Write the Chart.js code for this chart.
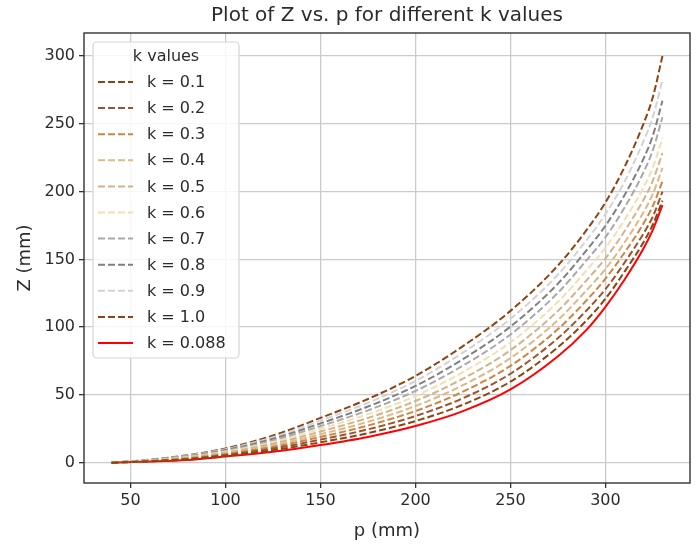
<!DOCTYPE html>
<html>
<head>
<meta charset="utf-8">
<script src="https://cdn.jsdelivr.net/npm/chart.js@4.4.1/dist/chart.umd.min.js"></script>
<style>
  html, body { margin: 0; padding: 0; background: #fff; }
  #wrap { width: 697px; height: 550px; position: relative; }
</style>
</head>
<body>
<div id="wrap"><canvas id="c" width="697" height="550"></canvas></div>
<script>
var pVals = [40, 60, 80, 100, 125, 150, 175, 200, 225, 250, 275, 290, 300, 310, 320, 325, 330];

// Z (mm) for each k
var zK01 = [0, 0.9, 2.4, 5.1, 9.2, 15, 21.8, 30.7, 42.8, 59.8, 85.2, 104.9, 121, 140.8, 162.6, 175.9, 193.3];
var zK02 = [0, 1.1, 2.7, 5.7, 10.4, 17, 24.6, 34.4, 47.6, 65.6, 91.9, 112.3, 128, 147.5, 169, 181.8, 199.9];
var zK03 = [0, 1.2, 3.1, 6.3, 11.6, 19, 27.4, 38.1, 52.4, 71.4, 98.6, 119.7, 135.8, 154.9, 176.4, 189.6, 207.6];
var zK04 = [0, 1.4, 3.4, 6.9, 12.8, 21, 30.2, 41.8, 57.2, 77.2, 105.3, 127.1, 142.9, 162.4, 184.7, 198.5, 217.5];
var zK05 = [0, 1.5, 3.8, 7.5, 14, 23, 33, 45.5, 62, 83, 112, 134.5, 150.7, 170.7, 193.9, 208.3, 228.5];
var zK06 = [0, 1.6, 4.1, 8.1, 15.2, 25, 35.8, 49.2, 66.8, 88.8, 118.7, 141.9, 158.5, 179, 203.1, 218.1, 239.5];
var zK07 = [0, 1.8, 4.5, 8.7, 16.4, 27, 38.6, 52.9, 71.6, 94.6, 125.4, 149.3, 166.3, 188.1, 214.1, 230.8, 254.9];
var zK08 = [0, 1.9, 4.8, 9.3, 17.6, 29, 41.4, 56.6, 76.4, 100.4, 132.1, 156.7, 174.8, 197.3, 224.2, 241.6, 267];
var zK09 = [0, 2.1, 5.2, 9.9, 18.8, 31, 44.2, 60.3, 81.2, 106.2, 138.8, 164.1, 183.4, 207.2, 237.1, 255.3, 282.4];
var zK10 = [0, 2.2, 5.5, 10.5, 20, 33, 47, 64, 86, 112, 145.5, 171.5, 192, 218, 250, 270, 300];
var zK0088 = [0, 0.8, 2.0, 4.5, 8, 13, 19, 27, 38, 54, 78.5, 98, 115, 135, 158, 172, 190];

var kLabels = ["k = 0.1", "k = 0.2", "k = 0.3", "k = 0.4", "k = 0.5",
               "k = 0.6", "k = 0.7", "k = 0.8", "k = 0.9", "k = 1.0"];
var kSeries = [zK01, zK02, zK03, zK04, zK05, zK06, zK07, zK08, zK09, zK10];
var kColors = ["#8b4513", "#a0522d", "#cd853f", "#deb887", "#d2b48c",
               "#f5deb3", "#a9a9a9", "#808080", "#d3d3d3", "#8b4513"];

var xTicks = [50, 100, 150, 200, 250, 300];
var yTicks = [0, 50, 100, 150, 200, 250, 300];

var FONT = "'DejaVu Sans', sans-serif";
var TXT = "#2b2b2b";

function pts(arr) {
  return pVals.map(function (p, i) { return { x: p, y: arr[i] }; });
}

var datasets = kSeries.map(function (s, i) {
  return {
    label: kLabels[i],
    data: pts(s),
    borderColor: kColors[i],
    borderWidth: 2,
    borderDash: [7, 3],
    pointRadius: 0,
    cubicInterpolationMode: "monotone",
    fill: false
  };
});
datasets.push({
  label: "k = 0.088",
  data: pts(zK0088),
  borderColor: "#ff0000",
  borderWidth: 2,
  pointRadius: 0,
  cubicInterpolationMode: "monotone",
  fill: false
});

var decor = {
  id: "decor",
  afterDraw: function (chart) {
    var ctx = chart.ctx;
    var a = chart.chartArea;
    ctx.save();
    // frame
    ctx.strokeStyle = "#333";
    ctx.lineWidth = 1.4;
    ctx.strokeRect(a.left, a.top, a.right - a.left, a.bottom - a.top);

    // title and axis labels
    ctx.fillStyle = TXT;
    ctx.textAlign = "center";
    ctx.textBaseline = "middle";
    ctx.font = "20px " + FONT;
    ctx.fillText("Plot of Z vs. p for different k values", (a.left + a.right) / 2, 16);
    ctx.font = "18px " + FONT;
    ctx.fillText("p (mm)", (a.left + a.right) / 2, 531);
    ctx.save();
    ctx.translate(25, (a.top + a.bottom) / 2);
    ctx.rotate(-Math.PI / 2);
    ctx.fillText("Z (mm)", 0, 0);
    ctx.restore();

    // legend
    var lx = 93, ly = 42, lw = 146, lh = 316, r = 4;
    ctx.beginPath();
    ctx.moveTo(lx + r, ly);
    ctx.arcTo(lx + lw, ly, lx + lw, ly + lh, r);
    ctx.arcTo(lx + lw, ly + lh, lx, ly + lh, r);
    ctx.arcTo(lx, ly + lh, lx, ly, r);
    ctx.arcTo(lx, ly, lx + lw, ly, r);
    ctx.closePath();
    ctx.fillStyle = "rgba(255,255,255,0.85)";
    ctx.fill();
    ctx.strokeStyle = "#d6d6d6";
    ctx.lineWidth = 1.2;
    ctx.stroke();

    ctx.fillStyle = TXT;
    ctx.font = "16px " + FONT;
    ctx.textAlign = "center";
    ctx.fillText("k values", 166, 57);
    ctx.textAlign = "left";
    chart.data.datasets.forEach(function (ds, i) {
      var y = 82 + i * 26.1;
      ctx.beginPath();
      ctx.setLineDash(ds.borderDash || []);
      ctx.strokeStyle = ds.borderColor;
      ctx.lineWidth = 2;
      ctx.moveTo(98, y);
      ctx.lineTo(133, y);
      ctx.stroke();
      ctx.setLineDash([]);
      ctx.fillStyle = TXT;
      ctx.fillText(ds.label, 147, y + 1);
    });
    ctx.restore();
  }
};

new Chart(document.getElementById("c"), {
  type: "line",
  data: { datasets: datasets },
  options: {
    responsive: false,
    animation: false,
    layout: { padding: { left: 0, right: 7, top: 33, bottom: 0 } },
    plugins: {
      legend: { display: false },
      title: { display: false },
      tooltip: { enabled: false }
    },
    scales: {
      x: {
        type: "linear",
        min: 25.5,
        max: 344.5,
        afterBuildTicks: function (s) {
          s.ticks = xTicks.map(function (v) { return { value: v }; });
        },
        afterFit: function (s) { s.height = 67; },
        ticks: { color: TXT, font: { family: FONT, size: 16 }, padding: 3, maxRotation: 0 },
        grid: { color: "#cbcbcb", lineWidth: 1.3, tickColor: "#333", tickLength: 5 },
        border: { display: false }
      },
      y: {
        type: "linear",
        min: -15,
        max: 317,
        afterBuildTicks: function (s) {
          s.ticks = yTicks.map(function (v) { return { value: v }; });
        },
        afterFit: function (s) { s.width = 84; },
        ticks: { color: TXT, font: { family: FONT, size: 16 }, padding: 4 },
        grid: { color: "#cbcbcb", lineWidth: 1.3, tickColor: "#333", tickLength: 5 },
        border: { display: false }
      }
    }
  },
  plugins: [decor]
});
</script>
</body>
</html>
